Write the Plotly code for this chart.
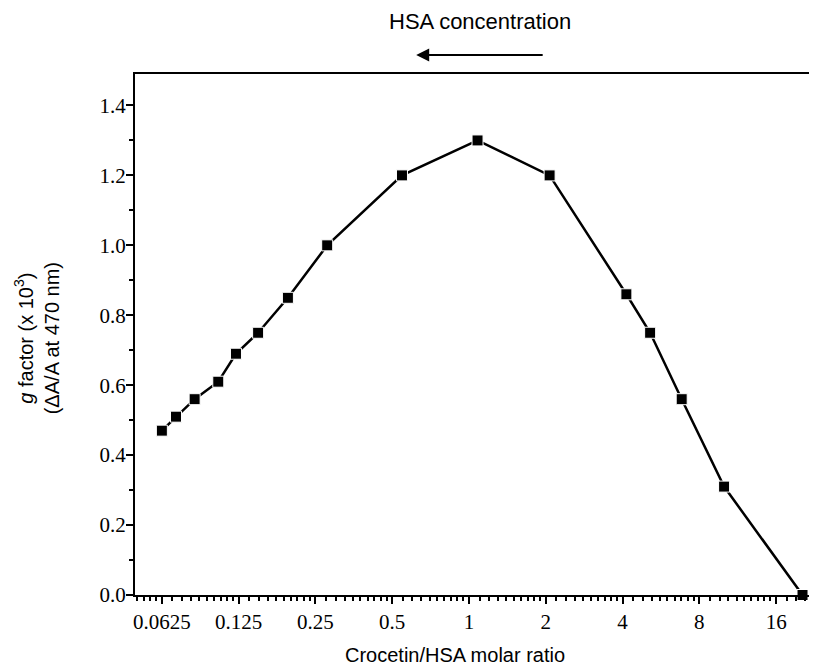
import numpy as np
import plotly.graph_objects as go

# Data
molar_ratio = [0.0625, 0.071, 0.084, 0.104, 0.122, 0.149, 0.195, 0.278,
               0.546, 1.08, 2.07, 4.14, 5.13, 6.82, 10.0, 20.3]
g_factor = [0.47, 0.51, 0.56, 0.61, 0.69, 0.75, 0.85, 1.00,
            1.20, 1.30, 1.20, 0.86, 0.75, 0.56, 0.31, 0.00]

x_tick_vals = [0.0625, 0.125, 0.25, 0.5, 1, 2, 4, 8, 16]
x_tick_text = ["0.0625", "0.125", "0.25", "0.5", "1", "2", "4", "8", "16"]
y_tick_vals = [0.0, 0.2, 0.4, 0.6, 0.8, 1.0, 1.2, 1.4]
y_tick_text = ["0.0", "0.2", "0.4", "0.6", "0.8", "1.0", "1.2", "1.4"]

# minor ticks: linear steps of 1/10 within each octave
octaves = [0.03125] + x_tick_vals + [32]
x_minor = [o * (1 + j / 10) for o in octaves for j in range(1, 10)]

# the page has an 8px body margin, so the figure is 8px smaller
OFF = 8
W, H = 817 - OFF, 671 - OFF
ML, MR, MT, MB = 135 - OFF, 0, 74 - OFF, 76
PW, PH = W - ML - MR, H - MT - MB
x_range = [np.log10(2 ** -4.35), np.log10(2 ** 4.506)]
y_range = [0, 1.49]


def px(xp):
    return (xp - OFF - ML) / PW


def py(yp):
    return (H - MB - (yp - OFF)) / PH


serif = "Liberation Serif"
sans = "Liberation Sans"

fig = go.Figure()
fig.add_trace(go.Scatter(
    x=molar_ratio, y=g_factor, mode="lines+markers",
    line=dict(color="black", width=2.5),
    marker=dict(symbol="square", size=11, color="black",
                line=dict(color="white", width=1)),
    showlegend=False, cliponaxis=False,
))
# invisible trace for the right-hand tick marks
fig.add_trace(go.Scatter(x=[molar_ratio[0]], y=[g_factor[0]], yaxis="y2",
                         mode="markers", marker=dict(opacity=0),
                         showlegend=False, hoverinfo="skip"))

fig.update_layout(
    width=W, height=H,
    margin=dict(l=ML, r=MR, t=MT, b=MB),
    paper_bgcolor="white", plot_bgcolor="white",
    xaxis=dict(
        type="log", range=x_range,
        tickmode="array", tickvals=x_tick_vals, ticktext=x_tick_text,
        ticks="outside", ticklen=7, tickwidth=2, tickcolor="black",
        showline=True, linecolor="black", linewidth=2, mirror=True,
        showgrid=False, zeroline=False,
        tickfont=dict(family=serif, size=21, color="black"),
        minor=dict(tickmode="array", tickvals=x_minor, ticks="outside",
                   ticklen=4, tickwidth=2, tickcolor="black", showgrid=False),
    ),
    yaxis=dict(
        range=y_range,
        tickmode="array", tickvals=y_tick_vals, ticktext=y_tick_text,
        ticks="outside", ticklen=7, tickwidth=2, tickcolor="black",
        showline=True, linecolor="black", linewidth=2, mirror=True,
        showgrid=False, zeroline=False, ticklabelstandoff=-4,
        tickfont=dict(family=serif, size=21, color="black"),
        minor=dict(dtick=0.1, tick0=0, ticks="outside", ticklen=4,
                   tickwidth=2, tickcolor="black", showgrid=False),
    ),
    yaxis2=dict(
        range=y_range, overlaying="y", side="right",
        tickmode="array", tickvals=y_tick_vals, showticklabels=False,
        ticks="inside", ticklen=3, tickwidth=2, tickcolor="black",
        showline=False, showgrid=False, zeroline=False,
    ),
    annotations=[
        dict(text="Crocetin/HSA molar ratio", xref="paper", yref="paper",
             x=px(456), y=py(655),
             showarrow=False, xanchor="center", yanchor="middle",
             font=dict(family=sans, size=20, color="black")),
        dict(text="<i>g</i> factor (x 10<sup>3</sup>)<br>(ΔA/A at 470 nm)",
             xref="paper", yref="paper", textangle=-90,
             x=px(36), y=py(338),
             showarrow=False, xanchor="center", yanchor="middle",
             font=dict(family=sans, size=20, color="black")),
        dict(text="HSA concentration", xref="paper", yref="paper",
             x=px(481), y=py(22),
             showarrow=False, xanchor="center", yanchor="middle",
             font=dict(family=sans, size=22, color="black")),
        dict(text="", xref="paper", yref="paper",
             x=px(417), y=py(55),
             ax=128, ay=0, axref="pixel", ayref="pixel",
             showarrow=True, arrowhead=2, arrowsize=1.3, arrowwidth=2,
             arrowcolor="black"),
    ],
)

fig.write_html("out.html")
